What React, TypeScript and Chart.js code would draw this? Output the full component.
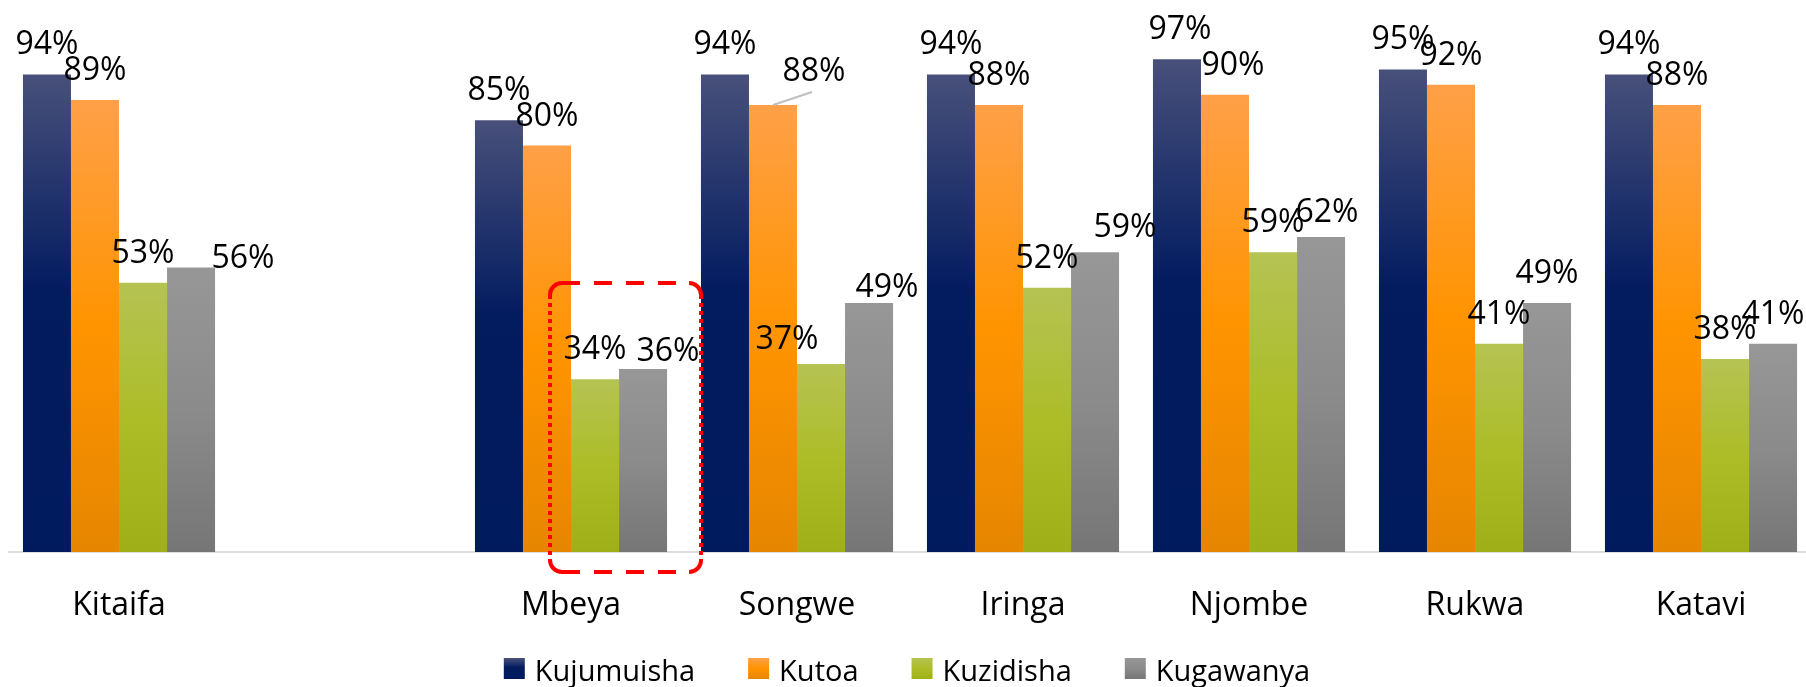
import React, { useEffect, useRef } from "react";
import { Chart, registerables } from "chart.js";

Chart.register(...registerables);

// ---------- data ----------
const CATEGORIES = ["Kitaifa", "", "Mbeya", "Songwe", "Iringa", "Njombe", "Rukwa", "Katavi"];
const SERIES_NAMES = ["Kujumuisha", "Kutoa", "Kuzidisha", "Kugawanya"];
const KUJUMUISHA = [94, null, 85, 94, 94, 97, 95, 94];
const KUTOA = [89, null, 80, 88, 88, 90, 92, 88];
const KUZIDISHA = [53, null, 34, 37, 52, 59, 41, 38];
const KUGAWANYA = [56, null, 36, 49, 59, 62, 49, 41];
const Y_MIN = 0;
const Y_MAX = 100;

// ---------- styles ----------
const FONT = "'Open Sans', 'Noto Sans', sans-serif";
const GRADIENT_STOPS: [number, string][][] = [
  [[0, "#48507A"], [0.45, "#031C60"], [1, "#001A5E"]],
  [[0, "#FFA048"], [0.5, "#FF9400"], [1, "#E68600"]],
  [[0, "#B5C353"], [0.5, "#ACBD28"], [1, "#9FAF17"]],
  [[0, "#979797"], [0.5, "#8B8B8B"], [1, "#767676"]],
];
const LABEL_GAP = 20;
// [dx, dy, leaderLine] keyed by "datasetIndex-categoryIndex"
const LABEL_NUDGES: Record<string, [number, number, boolean]> = {
  "3-0": [52, 20, false],
  "3-2": [25, 12, false],
  "1-3": [41, -4, true],
  "2-3": [-34, 5, false],
  "3-3": [18, 14, false],
  "3-4": [30, 5, false],
  "0-5": [3, 0, false],
  "1-5": [8, 0, false],
  "3-5": [6, 5, false],
};

function makeGradient(ctx: CanvasRenderingContext2D, top: number, bottom: number, si: number) {
  const g = ctx.createLinearGradient(0, top, 0, bottom);
  GRADIENT_STOPS[si].forEach(([o, c]) => g.addColorStop(o, c));
  return g;
}

const valueLabels = {
  id: "valueLabels",
  afterDatasetsDraw(chart: any) {
    const { ctx } = chart;
    ctx.save();
    ctx.font = `32px ${FONT}`;
    ctx.fillStyle = "#000000";
    ctx.textAlign = "center";
    ctx.textBaseline = "alphabetic";
    chart.data.datasets.forEach((ds: any, di: number) => {
      const meta = chart.getDatasetMeta(di);
      meta.data.forEach((bar: any, i: number) => {
        const v = ds.data[i];
        if (v == null) return;
        const n = LABEL_NUDGES[`${di}-${i}`] || [0, 0, false];
        const x = bar.x + n[0];
        const y = bar.y - LABEL_GAP + n[1];
        if (n[2]) {
          ctx.save();
          ctx.strokeStyle = "#BFBFBF";
          ctx.lineWidth = 2;
          ctx.beginPath();
          ctx.moveTo(bar.x, bar.y);
          ctx.lineTo(x - 2, y + 11);
          ctx.stroke();
          ctx.restore();
        }
        ctx.fillText(`${v}%`, x, y);
      });
    });
    ctx.restore();
  },
};

const highlightBox = {
  id: "highlightBox",
  afterDatasetsDraw(chart: any) {
    const { ctx, chartArea } = chart;
    const g = chart.getDatasetMeta(2).data[2];
    const k = chart.getDatasetMeta(3).data[2];
    if (!g || !k) return;
    const left = g.x - g.width / 2 - 21;
    const right = k.x + k.width / 2 + 34;
    const top = chartArea.bottom - 269;
    const bottom = chartArea.bottom + 20;
    const r = 12;
    ctx.save();
    ctx.strokeStyle = "#FF0000";
    ctx.lineWidth = 4;
    ctx.setLineDash([18, 14]);
    ctx.beginPath();
    ctx.moveTo(left + r, top);
    ctx.lineTo(right - r, top);
    ctx.moveTo(left + r, bottom);
    ctx.lineTo(right - r, bottom);
    ctx.stroke();
    ctx.setLineDash([4, 4]);
    ctx.beginPath();
    ctx.moveTo(left, top + r);
    ctx.lineTo(left, bottom - r);
    ctx.moveTo(right, top + r);
    ctx.lineTo(right, bottom - r);
    ctx.stroke();
    ctx.setLineDash([]);
    ctx.beginPath();
    ctx.arc(left + r, top + r, r, Math.PI, 1.5 * Math.PI);
    ctx.moveTo(right - r, top);
    ctx.arc(right - r, top + r, r, 1.5 * Math.PI, 2 * Math.PI);
    ctx.moveTo(right, bottom - r);
    ctx.arc(right - r, bottom - r, r, 0, 0.5 * Math.PI);
    ctx.moveTo(left + r, bottom);
    ctx.arc(left + r, bottom - r, r, 0.5 * Math.PI, Math.PI);
    ctx.stroke();
    ctx.restore();
  },
};

const bottomLegend = {
  id: "bottomLegend",
  afterDraw(chart: any) {
    const { ctx, chartArea } = chart;
    const box = 21;
    const textGap = 10;
    const itemGap = 53;
    ctx.save();
    ctx.font = `29px ${FONT}`;
    const widths = SERIES_NAMES.map((s) => box + textGap + ctx.measureText(s).width);
    const total = widths.reduce((a, b) => a + b, 0) + itemGap * (widths.length - 1);
    let x = (chartArea.left + chartArea.right) / 2 - total / 2 - 3;
    const top = chartArea.bottom + 106;
    ctx.textAlign = "left";
    ctx.textBaseline = "alphabetic";
    SERIES_NAMES.forEach((s, i) => {
      ctx.fillStyle = makeGradient(ctx, top, top + box, i);
      ctx.fillRect(x, top, box, box);
      ctx.fillStyle = "#000000";
      ctx.fillText(s, x + box + textGap, top + 23);
      x += widths[i] + itemGap;
    });
    ctx.restore();
  },
};

export default function App() {
  const ref = useRef<HTMLCanvasElement | null>(null);

  useEffect(() => {
    if (!ref.current) return;
    const seriesData = [KUJUMUISHA, KUTOA, KUZIDISHA, KUGAWANYA];
    const chart = new Chart(ref.current, {
      type: "bar",
      data: {
        labels: CATEGORIES,
        datasets: seriesData.map((d, si) => ({
          label: SERIES_NAMES[si],
          data: d,
          borderWidth: 0,
          categoryPercentage: 0.85,
          barPercentage: 1.0,
          backgroundColor: (c: any) => {
            const ch = c.chart;
            const fallback = GRADIENT_STOPS[si][1][1];
            if (!ch.chartArea || c.type !== "data" || c.raw == null) return fallback;
            const yTop = ch.scales.y.getPixelForValue(c.raw);
            const yBase = ch.scales.y.getPixelForValue(0);
            if (!isFinite(yTop) || !isFinite(yBase) || yBase - yTop < 1) return fallback;
            return makeGradient(ch.ctx, yTop, yBase, si);
          },
        })),
      },
      options: {
        responsive: false,
        animation: false,
        devicePixelRatio: 1,
        layout: { padding: { top: 44, bottom: 39.6, left: 0, right: 0 } },
        plugins: {
          legend: { display: false },
          tooltip: { enabled: false },
        },
        scales: {
          x: {
            grid: { display: false, drawTicks: false },
            border: { display: true, color: "#DDDDDD", width: 2 },
            ticks: {
              color: "#000000",
              padding: 35,
              font: { family: FONT, size: 32 },
              maxRotation: 0,
              autoSkip: false,
            },
          },
          y: {
            display: false,
            min: Y_MIN,
            max: Y_MAX,
          },
        },
      },
      plugins: [valueLabels, highlightBox, bottomLegend],
    });
    return () => chart.destroy();
  }, []);

  return (
    <div
      style={{
        position: "fixed",
        left: 8,
        top: 0,
        width: 1798,
        height: 687,
        overflow: "hidden",
        background: "#FFFFFF",
      }}
    >
      <canvas
        ref={ref}
        width={1808}
        height={700}
        style={{ position: "absolute", left: -2, top: 0, width: 1808, height: 700 }}
      />
    </div>
  );
}
